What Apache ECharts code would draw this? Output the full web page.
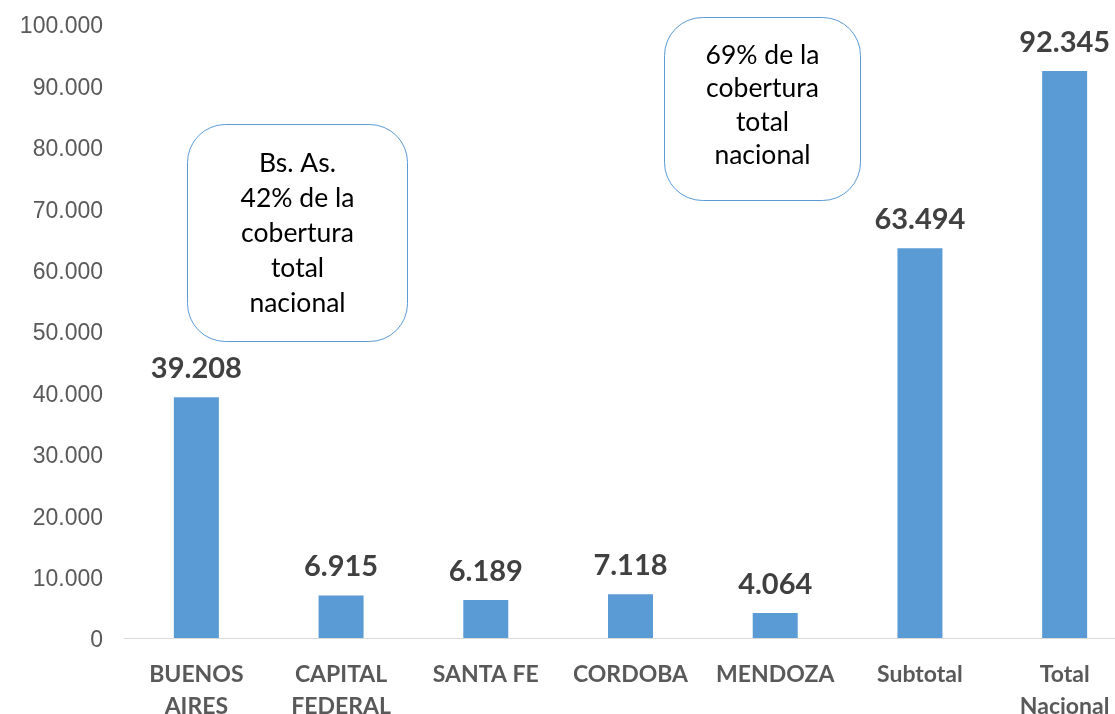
<!DOCTYPE html>
<html>
<head>
<meta charset="utf-8">
<script src="https://cdn.jsdelivr.net/npm/echarts@6/dist/echarts.min.js"></script>
<style>html,body{margin:0;padding:0;background:#fff;}#c{width:1115px;height:714px;}</style>
</head>
<body>
<div id="c"></div>
<script>
const categories = ['BUENOS\nAIRES', 'CAPITAL\nFEDERAL', 'SANTA FE', 'CORDOBA', 'MENDOZA', 'Subtotal', 'Total\nNacional'];
const values = [39208, 6915, 6189, 7118, 4064, 63494, 92345];
const yTicks = { min: 0, max: 100000, interval: 10000 };
const note1 = 'Bs. As.\n42% de la\ncobertura\ntotal\nnacional';
const note2 = '69% de la\ncobertura\ntotal\nnacional';

function fmt(v) {
  return String(Math.round(v)).replace(/\B(?=(\d{3})+(?!\d))/g, '.');
}

const chart = echarts.init(document.getElementById('c'), null, { renderer: 'canvas' });
chart.setOption({
  animation: false,
  backgroundColor: '#ffffff',
  grid: { left: 124, top: 24, width: 1013, height: 614, containLabel: false, outerBoundsMode: 'none' },
  xAxis: {
    type: 'category',
    data: categories,
    axisLine: { lineStyle: { color: '#d9d9d9', width: 1 } },
    axisTick: { show: false },
    axisLabel: {
      interval: 0, margin: 21, color: '#595959',
      fontFamily: 'Lato', fontWeight: 'bold', fontSize: 23, lineHeight: 32
    }
  },
  yAxis: {
    type: 'value',
    min: yTicks.min, max: yTicks.max, interval: yTicks.interval,
    splitLine: { show: false },
    axisLine: { show: false },
    axisTick: { show: false },
    axisLabel: {
      margin: 21, color: '#595959', fontFamily: 'Liberation Sans', fontSize: 23,
      formatter: v => '{t|' + fmt(v) + '}',
      rich: { t: { fontFamily: 'Liberation Sans', fontSize: 23, color: '#595959', padding: [6, 0, 0, 0] } }
    }
  },
  series: [{
    type: 'bar',
    data: values,
    barWidth: 45,
    itemStyle: { color: '#5b9bd5' },
    label: {
      show: true, position: 'top', distance: 14,
      color: '#404040', fontFamily: 'Lato', fontWeight: 'bold', fontSize: 29,
      formatter: p => fmt(p.value)
    }
  }],
  graphic: [
    {
      type: 'group', left: 187, top: 124,
      children: [
        { type: 'rect', shape: { x: 0, y: 0, width: 220, height: 217, r: 38 },
          style: { fill: '#ffffff', stroke: '#5b9bd5', lineWidth: 1 } },
        { type: 'text', x: 110, y: 21,
          style: { text: note1, fill: '#000000', font: '26.5px Lato', lineHeight: 35, align: 'center', verticalAlign: 'top' } }
      ]
    },
    {
      type: 'group', left: 664, top: 17,
      children: [
        { type: 'rect', shape: { x: 0, y: 0, width: 196, height: 183, r: 38 },
          style: { fill: '#ffffff', stroke: '#5b9bd5', lineWidth: 1 } },
        { type: 'text', x: 98, y: 21,
          style: { text: note2, fill: '#000000', font: '26.5px Lato', lineHeight: 33.5, align: 'center', verticalAlign: 'top' } }
      ]
    }
  ]
});
</script>
</body>
</html>
